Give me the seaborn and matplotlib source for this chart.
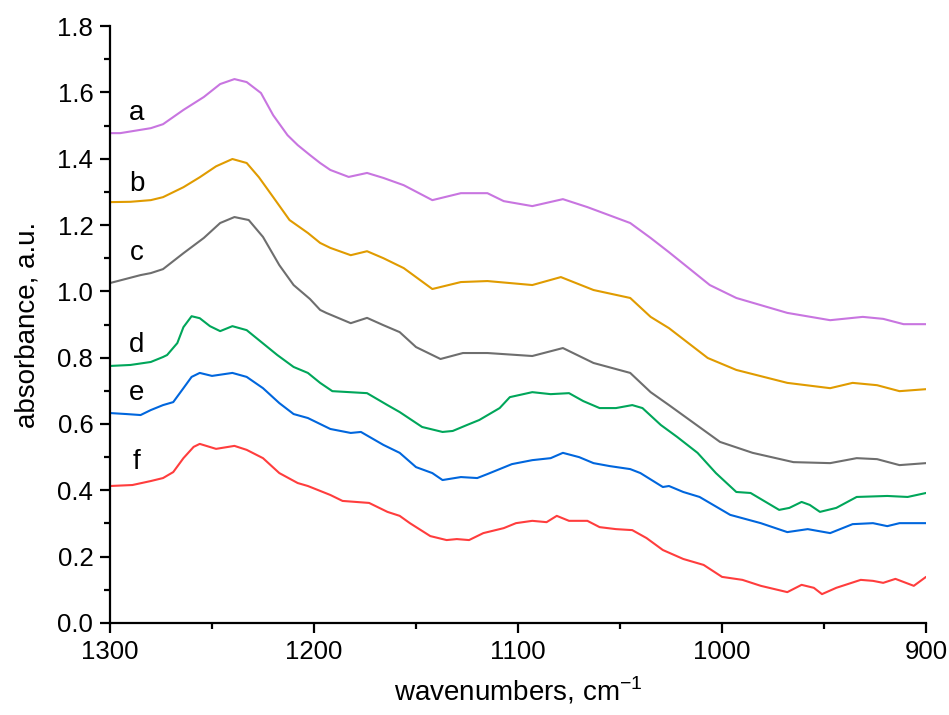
import numpy as np
import pandas as pd
import matplotlib
matplotlib.use("Agg")
import matplotlib.pyplot as plt
from matplotlib.ticker import MultipleLocator, FormatStrFormatter
import seaborn as sns

# FTIR absorbance spectra, 1300-900 cm-1, offset for clarity
wn_a = [1300, 1295, 1280, 1274, 1264, 1254, 1246, 1239, 1233, 1226, 1220, 1213, 1208, 1202,
        1197, 1192, 1183, 1174, 1166, 1156, 1142, 1128, 1115, 1107, 1093, 1078, 1066, 1045,
        1035, 1026, 1006, 993, 968, 947, 931, 921, 911, 900]
abs_a = [1.477, 1.477, 1.492, 1.504, 1.547, 1.586, 1.625, 1.640, 1.631, 1.598, 1.531, 1.471,
         1.441, 1.411, 1.387, 1.366, 1.345, 1.357, 1.342, 1.320, 1.275, 1.296, 1.296, 1.272,
         1.257, 1.278, 1.254, 1.206, 1.161, 1.118, 1.019, 0.980, 0.935, 0.913, 0.923, 0.917,
         0.901, 0.901]

wn_b = [1300, 1290, 1280, 1274, 1264, 1256, 1248, 1240, 1233, 1227, 1220, 1212, 1203, 1197,
        1192, 1182, 1174, 1166, 1156, 1142, 1128, 1115, 1093, 1079, 1063, 1045, 1035, 1026,
        1007, 993, 968, 947, 936, 924, 913, 900]
abs_b = [1.269, 1.270, 1.275, 1.284, 1.314, 1.344, 1.377, 1.399, 1.387, 1.344, 1.284, 1.215,
         1.176, 1.146, 1.131, 1.109, 1.121, 1.100, 1.070, 1.007, 1.028, 1.031, 1.019, 1.043,
         1.004, 0.980, 0.923, 0.889, 0.799, 0.763, 0.724, 0.708, 0.724, 0.717, 0.699, 0.705]

wn_c = [1300, 1285, 1280, 1274, 1264, 1254, 1246, 1239, 1232, 1225, 1217, 1210, 1202, 1197,
        1194, 1182, 1174, 1166, 1158, 1150, 1138, 1127, 1115, 1093, 1078, 1063, 1045, 1035,
        1026, 1001, 985, 965, 947, 934, 924, 913, 900]
abs_c = [1.025, 1.049, 1.055, 1.067, 1.115, 1.161, 1.206, 1.224, 1.215, 1.164, 1.079, 1.019,
         0.977, 0.944, 0.935, 0.904, 0.920, 0.898, 0.877, 0.832, 0.796, 0.814, 0.814, 0.805,
         0.829, 0.784, 0.754, 0.696, 0.657, 0.546, 0.513, 0.485, 0.482, 0.497, 0.494, 0.476,
         0.482]

wn_d = [1300, 1290, 1280, 1274, 1272, 1267, 1264, 1260, 1256, 1251, 1246, 1240, 1233, 1227,
        1218, 1210, 1203, 1197, 1191, 1174, 1164, 1158, 1147, 1137, 1132, 1125, 1119, 1109,
        1104, 1093, 1084, 1075, 1068, 1060, 1052, 1044, 1039, 1030, 1022, 1012, 1003, 993,
        986, 972, 967, 961, 957, 952, 944, 934, 919, 909, 900]
abs_d = [0.775, 0.778, 0.787, 0.802, 0.808, 0.844, 0.892, 0.925, 0.919, 0.895, 0.880, 0.895,
         0.883, 0.853, 0.808, 0.772, 0.754, 0.724, 0.699, 0.693, 0.657, 0.636, 0.591, 0.576,
         0.579, 0.597, 0.612, 0.648, 0.681, 0.696, 0.690, 0.693, 0.669, 0.648, 0.648, 0.657,
         0.648, 0.597, 0.561, 0.513, 0.452, 0.395, 0.392, 0.341, 0.347, 0.365, 0.356, 0.335,
         0.347, 0.380, 0.383, 0.380, 0.392]

wn_e = [1300, 1292, 1285, 1280, 1274, 1269, 1264, 1260, 1256, 1250, 1240, 1233, 1225, 1217,
        1210, 1203, 1192, 1182, 1177, 1166, 1158, 1150, 1142, 1137, 1128, 1120, 1115, 1109,
        1103, 1093, 1084, 1078, 1070, 1063, 1055, 1045, 1040, 1029, 1026, 1019, 1011, 996,
        981, 968, 958, 947, 936, 926, 919, 913, 900]
abs_e = [0.633, 0.630, 0.627, 0.642, 0.657, 0.666, 0.708, 0.742, 0.754, 0.745, 0.754, 0.742,
         0.708, 0.663, 0.630, 0.618, 0.585, 0.573, 0.576, 0.537, 0.513, 0.470, 0.452, 0.431,
         0.440, 0.437, 0.449, 0.464, 0.479, 0.491, 0.497, 0.513, 0.500, 0.482, 0.473, 0.464,
         0.452, 0.410, 0.413, 0.395, 0.380, 0.326, 0.301, 0.274, 0.283, 0.271, 0.298, 0.301,
         0.292, 0.301, 0.301]

wn_f = [1300, 1289, 1280, 1274, 1269, 1264, 1259, 1256, 1248, 1239, 1233, 1225, 1217, 1208,
        1203, 1192, 1186, 1173, 1164, 1158, 1153, 1143, 1135, 1130, 1124, 1117, 1107, 1101,
        1093, 1086, 1081, 1075, 1066, 1060, 1052, 1044, 1037, 1029, 1019, 1009, 1000, 990,
        981, 968, 961, 955, 951, 944, 932, 926, 921, 915, 906, 900]
abs_f = [0.413, 0.416, 0.428, 0.437, 0.455, 0.497, 0.531, 0.540, 0.525, 0.534, 0.522, 0.497,
         0.452, 0.422, 0.413, 0.386, 0.368, 0.362, 0.335, 0.323, 0.301, 0.262, 0.250, 0.253,
         0.250, 0.271, 0.286, 0.301, 0.308, 0.304, 0.323, 0.308, 0.308, 0.289, 0.283, 0.280,
         0.256, 0.220, 0.193, 0.175, 0.139, 0.130, 0.112, 0.093, 0.115, 0.106, 0.087, 0.106,
         0.130, 0.127, 0.121, 0.133, 0.112, 0.139]

samples = ["a", "b", "c", "d", "e", "f"]
wavenumbers = [wn_a, wn_b, wn_c, wn_d, wn_e, wn_f]
absorbances = [abs_a, abs_b, abs_c, abs_d, abs_e, abs_f]
colors = ["#C875E0", "#E09B00", "#6E6E6E", "#00A65A", "#0066DD", "#FF3D3D"]

# curve letters placed just above each trace at the left edge
label_x = 1287
label_y = [1.537, 1.324, 1.115, 0.838, 0.694, 0.485]

frames = [pd.DataFrame({"wavenumber": w, "absorbance": a, "sample": s})
          for s, w, a in zip(samples, wavenumbers, absorbances)]
df = pd.concat(frames, ignore_index=True)

sns.set_theme(style="ticks")
plt.rcParams["font.family"] = ["Liberation Sans", "DejaVu Sans"]
plt.rcParams["mathtext.fontset"] = "custom"
plt.rcParams["mathtext.rm"] = "Liberation Sans"

fig = plt.figure(figsize=(9.49, 7.15), dpi=100)
ax = fig.add_axes([0.1159, 0.1287, 0.8599, 0.8349])

sns.lineplot(data=df, x="wavenumber", y="absorbance", hue="sample",
             palette=dict(zip(samples, colors)), linewidth=1.5, legend=False,
             estimator=None, sort=True, ax=ax)
for line in ax.get_lines():
    line.set_solid_joinstyle("round")
    line.set_solid_capstyle("round")

for s, y in zip(samples, label_y):
    ax.text(label_x, y, s, fontsize=20, ha="center", va="center", color="black")

ax.set_xlim(1300, 900)
ax.set_ylim(0, 1.8)
ax.xaxis.set_major_locator(MultipleLocator(100))
ax.xaxis.set_minor_locator(MultipleLocator(50))
ax.yaxis.set_major_locator(MultipleLocator(0.2))
ax.yaxis.set_minor_locator(MultipleLocator(0.1))
ax.yaxis.set_major_formatter(FormatStrFormatter("%.1f"))

for side in ["top", "right"]:
    ax.spines[side].set_visible(False)
for side in ["left", "bottom"]:
    ax.spines[side].set_linewidth(1.6)
    ax.spines[side].set_color("black")

ax.tick_params(which="major", direction="out", length=7, width=1.6, labelsize=18.5,
               colors="black", pad=5)
ax.tick_params(which="minor", direction="out", length=4, width=1.6, colors="black")

ax.set_xlabel("wavenumbers, cm$^{\\mathrm{-1}}$", fontsize=20, color="black", labelpad=8)
ax.set_ylabel("absorbance, a.u.", fontsize=20, color="black", labelpad=12)

fig.savefig("out.png", dpi=100)
